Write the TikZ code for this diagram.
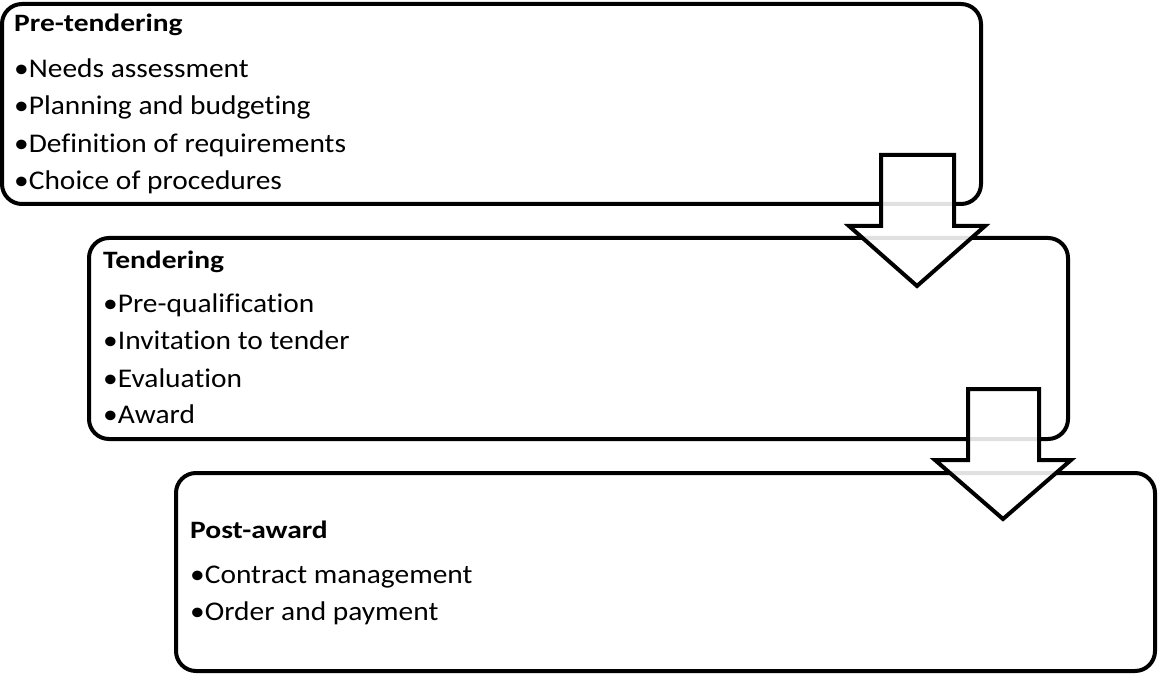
\documentclass[tikz,border=0pt]{standalone}
\usepackage{fontspec}
\setmainfont{Carlito}[Ligatures=NoCommon]
\newfontfamily\itemfont{Carlito}[FakeStretch=1.09,Ligatures=NoCommon]
\newfontfamily\headfont{Carlito}[FakeStretch=1.18,Ligatures=NoCommon]
\begin{document}
\begin{tikzpicture}[x=1pt,y=-1pt,
  stage/.style={draw=black,line width=4pt,rounded corners=20pt,fill=white,inner sep=0pt},
  blockarrow/.style={draw=black,line width=4pt,fill=white,fill opacity=0.88,draw opacity=1,line join=miter},
  title/.style={anchor=base west,font=\headfont\fontsize{25}{30}\selectfont\bfseries,inner sep=0pt},
  item/.style={anchor=base west,font=\itemfont\fontsize{27}{32}\selectfont,inner sep=0pt}]
\useasboundingbox (0,0) rectangle (1158,676);
\node[stage,minimum width=979pt,minimum height=200pt] (b1) at (491.5,104) {};
\node[stage,minimum width=979pt,minimum height=201pt] (b2) at (578.5,338.5) {};
\node[stage,minimum width=979pt,minimum height=198pt] (b3) at (665.5,572) {};
% text box 1
\node[title] (t1) at (14,32) {Pre-tendering};
\node[item] (i11) at (14,78) {•Needs assessment};
\node[item] (i12) at (14,115) {•Planning and budgeting};
\node[item] (i13) at (14,153) {•Definition of requirements};
\node[item] (i14) at (14,190) {•Choice of procedures};
% text box 2
\node[title] (t2) at (103,269) {Tendering};
\node[item] (i21) at (103,312) {•Pre-qualification};
\node[item] (i22) at (103,349) {•Invitation to tender};
\node[item] (i23) at (103,387) {•Evaluation};
\node[item] (i24) at (103,423) {•Award};
% text box 3
\node[title] (t3) at (190,538) {Post-award};
\node[item] (i31) at (190,583) {•Contract management};
\node[item] (i32) at (190,620) {•Order and payment};
% block arrows
\coordinate (a1) at (917,154);
\draw[blockarrow] (881,155) -- (954,155) -- (954,226) -- (985,226) -- (917,286) -- (849,226) -- (881,226) -- cycle;
\coordinate (a2) at (1003,388);
\draw[blockarrow] (968,389) -- (1039,389) -- (1039,460) -- (1071,460) -- (1003,519) -- (935,460) -- (968,460) -- cycle;
\end{tikzpicture}
\end{document}
